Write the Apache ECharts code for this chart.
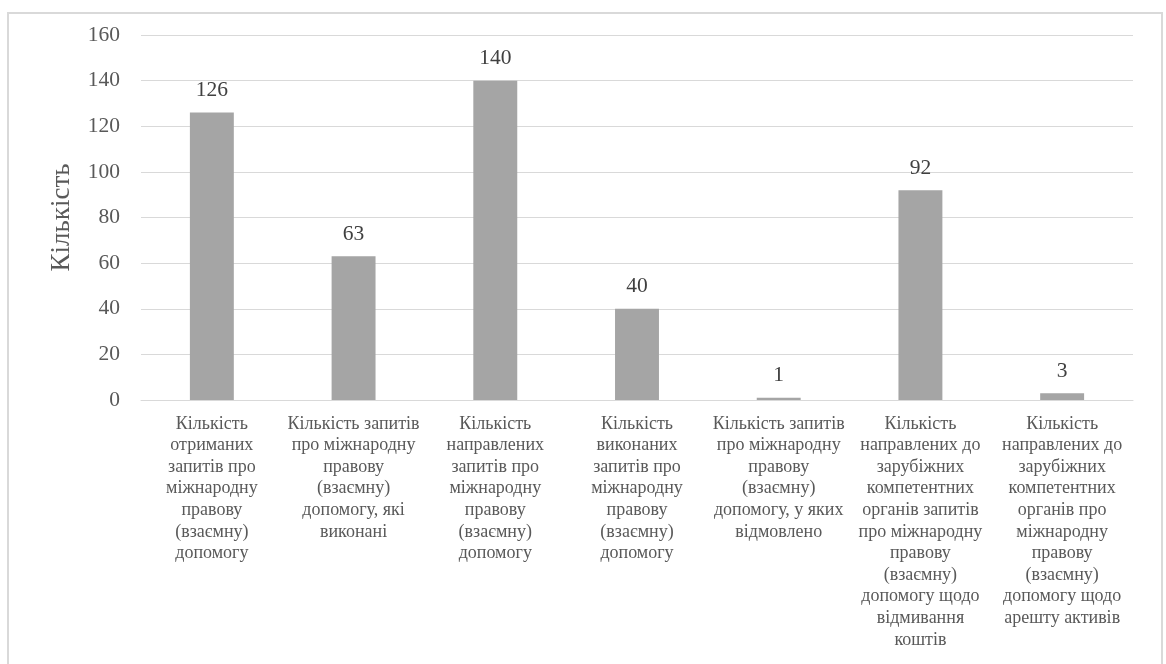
<!DOCTYPE html>
<html>
<head>
<meta charset="utf-8">
<script src="https://cdn.jsdelivr.net/npm/echarts@6/dist/echarts.min.js"></script>
<style>
  html, body { margin: 0; padding: 0; background: #fff; }
  #chart { width: 1166px; height: 664px; }
</style>
</head>
<body>
<div id="chart"></div>
<script>
// category labels (line breaks follow the original wrapping)
var categories = [
    "Кількість\nотриманих\nзапитів про\nміжнародну\nправову\n(взаємну)\nдопомогу",
    "Кількість запитів\nпро міжнародну\nправову\n(взаємну)\nдопомогу, які\nвиконані",
    "Кількість\nнаправлених\nзапитів про\nміжнародну\nправову\n(взаємну)\nдопомогу",
    "Кількість\nвиконаних\nзапитів про\nміжнародну\nправову\n(взаємну)\nдопомогу",
    "Кількість запитів\nпро міжнародну\nправову\n(взаємну)\nдопомогу, у яких\nвідмовлено",
    "Кількість\nнаправлених до\nзарубіжних\nкомпетентних\nорганів запитів\nпро міжнародну\nправову\n(взаємну)\nдопомогу щодо\nвідмивання\nкоштів",
    "Кількість\nнаправлених до\nзарубіжних\nкомпетентних\nорганів про\nміжнародну\nправову\n(взаємну)\nдопомогу щодо\nарешту активів"
];
var counts = [126, 63, 140, 40, 1, 92, 3];
var yName = "Кількість";

var font = "'Liberation Serif', 'Times New Roman', serif";
var myChart = echarts.init(document.getElementById("chart"));

var option = {
    backgroundColor: "#fff",
    animation: false,
    graphic: [{
        type: "rect",
        shape: { x: 8, y: 13, width: 1154, height: 700 },
        style: { fill: null, stroke: "#d9d9d9", lineWidth: 2 }
    }],
    grid: { left: 141, right: 33, top: 35, bottom: 264 },
    xAxis: {
        type: "category",
        data: categories,
        axisLine: { lineStyle: { color: "#d9d9d9" } },
        axisTick: { show: false },
        axisLabel: {
            interval: 0,
            color: "#595959",
            fontFamily: font,
            fontSize: 18,
            lineHeight: 21.6,
            margin: 13,
            verticalAlign: "top"
        }
    },
    yAxis: {
        type: "value",
        min: 0,
        max: 160,
        interval: 20,
        name: yName,
        nameLocation: "middle",
        nameRotate: 90,
        nameGap: 66,
        nameTextStyle: { color: "#595959", fontFamily: font, fontSize: 27 },
        axisLine: { show: false },
        axisTick: { show: false },
        axisLabel: { color: "#595959", fontFamily: font, fontSize: 21.5, margin: 21 },
        splitLine: { lineStyle: { color: "#d9d9d9" } }
    },
    series: [{
        type: "bar",
        data: counts,
        barWidth: "31%",
        itemStyle: { color: "#a5a5a5" },
        label: {
            show: true,
            position: "top",
            distance: 11,
            color: "#404040",
            fontFamily: font,
            fontSize: 21.5
        }
    }]
};

myChart.setOption(option);
</script>
</body>
</html>
